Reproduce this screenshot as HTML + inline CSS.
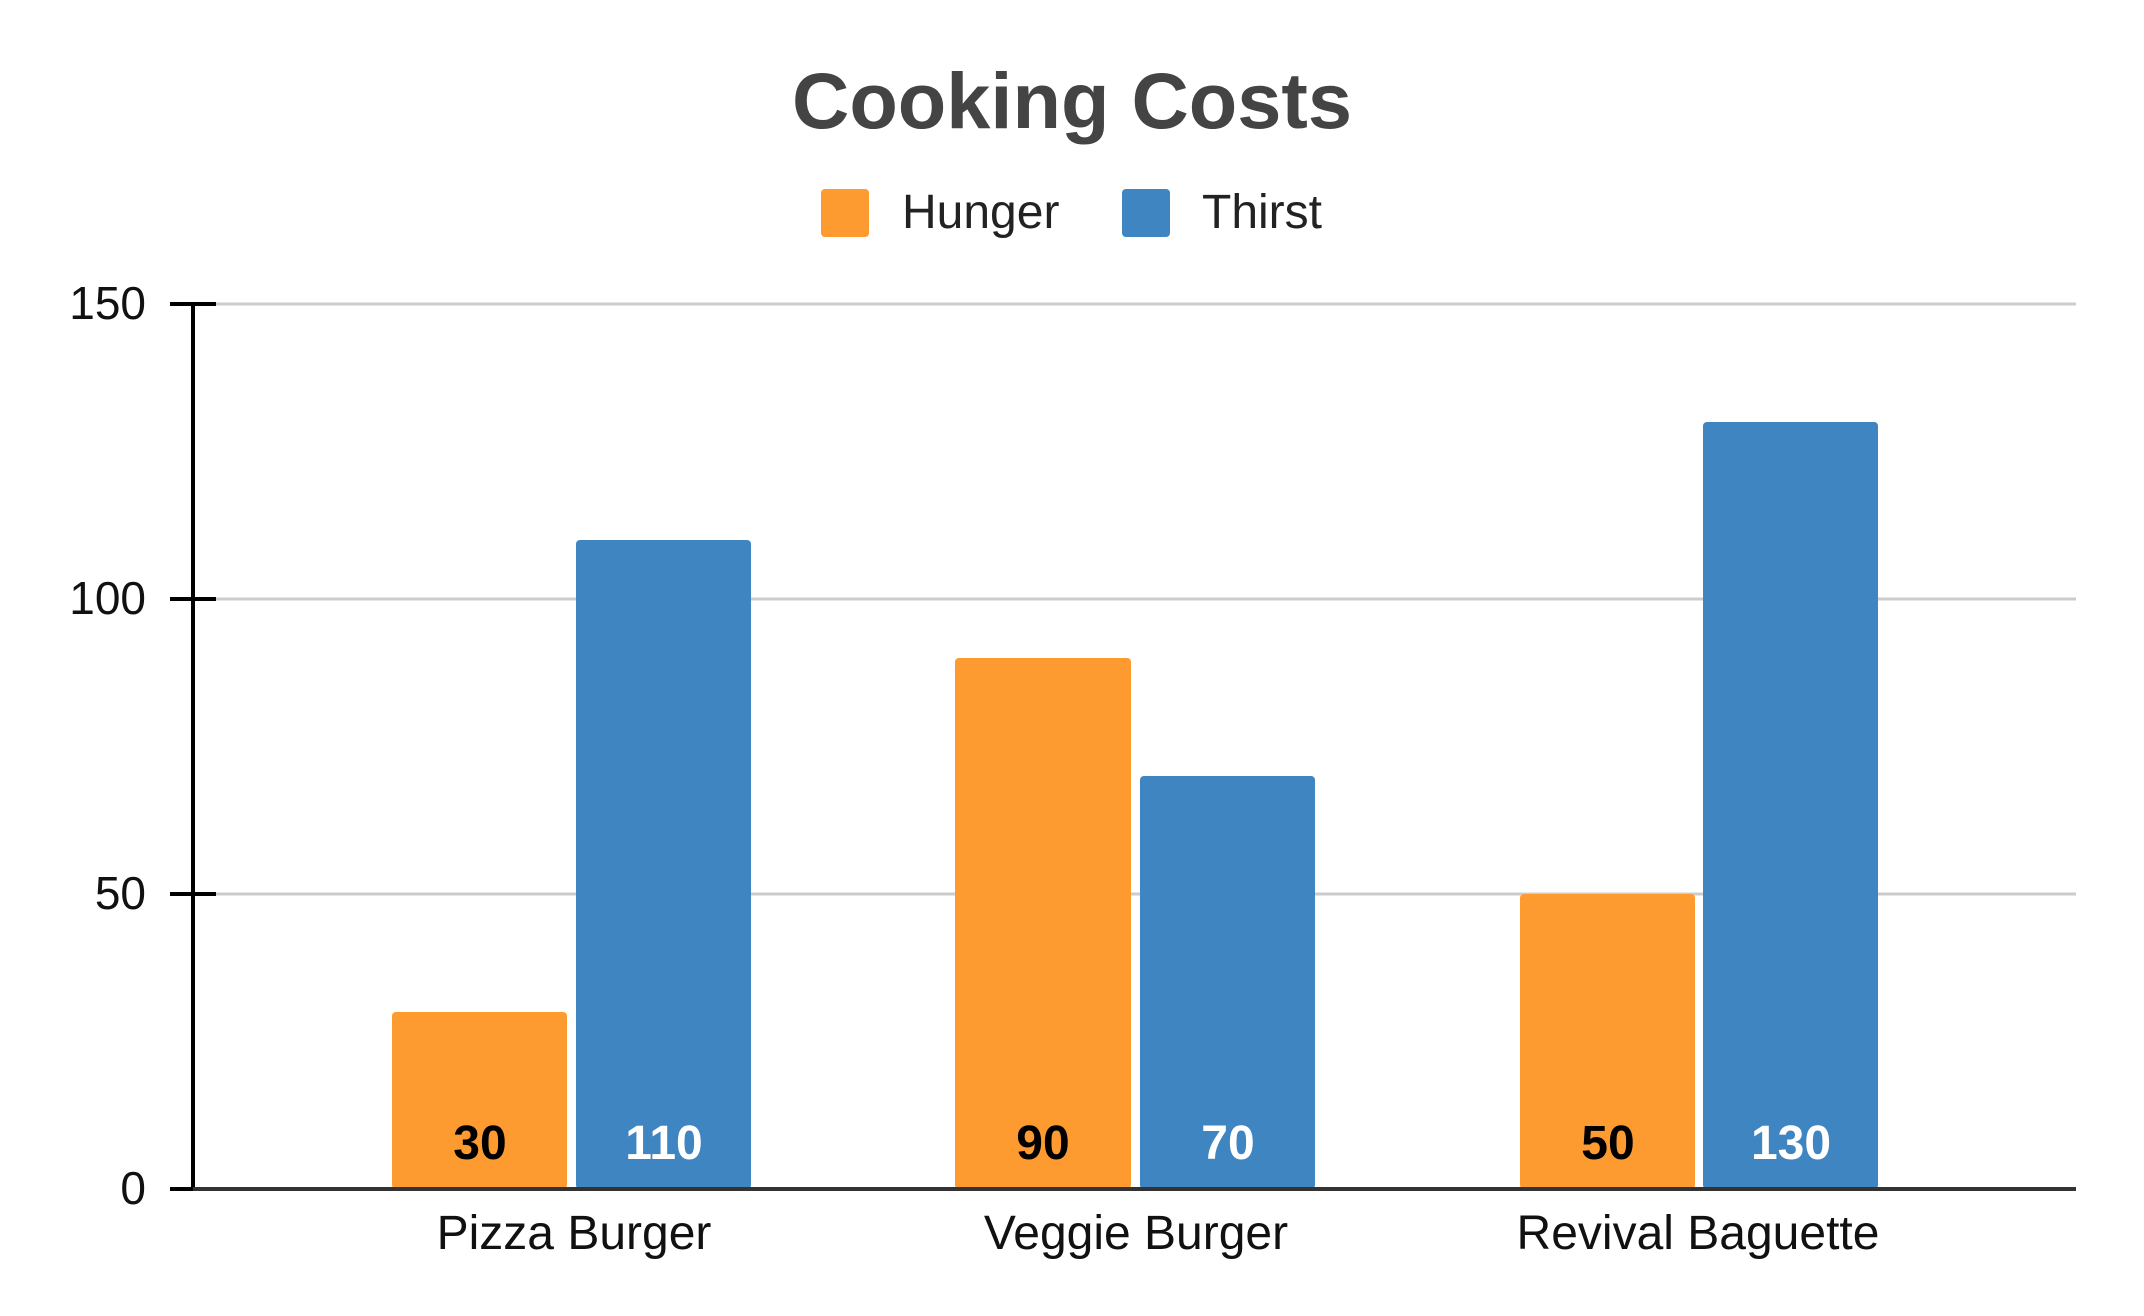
<!DOCTYPE html>
<html><head><meta charset="utf-8"><style>
html,body{margin:0;padding:0;background:#fff;}
svg{display:block;}
text{font-family:"Liberation Sans",Arial,sans-serif;}
</style></head><body>
<svg width="2144" height="1316" viewBox="0 0 2144 1316" xmlns="http://www.w3.org/2000/svg">
<rect width="2144" height="1316" fill="#fff"/>
<text x="1072" y="128" text-anchor="middle" font-size="79" font-weight="bold" fill="#444" textLength="560" lengthAdjust="spacingAndGlyphs">Cooking Costs</text>
<rect x="821" y="189" width="48" height="48" rx="4" fill="#fd9a30"/>
<text x="902" y="228" font-size="48" fill="#222">Hunger</text>
<rect x="1122" y="189" width="48" height="48" rx="4" fill="#3f85c2"/>
<text x="1202" y="228" font-size="48" fill="#222">Thirst</text>
<g stroke="#cccccc" stroke-width="3">
<line x1="216" y1="304" x2="2076" y2="304"/>
<line x1="216" y1="599" x2="2076" y2="599"/>
<line x1="216" y1="894" x2="2076" y2="894"/>
</g>
<g fill="#fd9a30">
<rect x="392" y="1012" width="175" height="177" rx="4"/>
<rect x="955" y="658" width="176" height="531" rx="4"/>
<rect x="1520" y="894" width="175" height="295" rx="4"/>
</g>
<g fill="#3f85c2">
<rect x="576" y="540" width="175" height="649" rx="4"/>
<rect x="1140" y="776" width="175" height="413" rx="4"/>
<rect x="1703" y="422" width="175" height="767" rx="4"/>
</g>
<g stroke="#000" stroke-width="4">
<line x1="193" y1="304" x2="193" y2="1191"/>
<line x1="170" y1="304" x2="216" y2="304"/>
<line x1="170" y1="599" x2="216" y2="599"/>
<line x1="170" y1="894" x2="216" y2="894"/>
<line x1="170" y1="1189" x2="216" y2="1189"/>
</g>
<line x1="193" y1="1189" x2="2076" y2="1189" stroke="#333" stroke-width="4"/>
<g font-size="46" fill="#111" text-anchor="end">
<text x="146" y="319">150</text>
<text x="146" y="614">100</text>
<text x="146" y="909">50</text>
<text x="146" y="1204">0</text>
</g>
<g font-size="48" fill="#111" text-anchor="middle">
<text x="574" y="1249">Pizza Burger</text>
<text x="1136" y="1249">Veggie Burger</text>
<text x="1698" y="1249">Revival Baguette</text>
</g>
<g font-size="48" font-weight="bold" text-anchor="middle">
<text x="480" y="1159" fill="#000">30</text>
<text x="664" y="1159" fill="#fff">110</text>
<text x="1043" y="1159" fill="#000">90</text>
<text x="1228" y="1159" fill="#fff">70</text>
<text x="1608" y="1159" fill="#000">50</text>
<text x="1791" y="1159" fill="#fff">130</text>
</g>
</svg>
</body></html>
